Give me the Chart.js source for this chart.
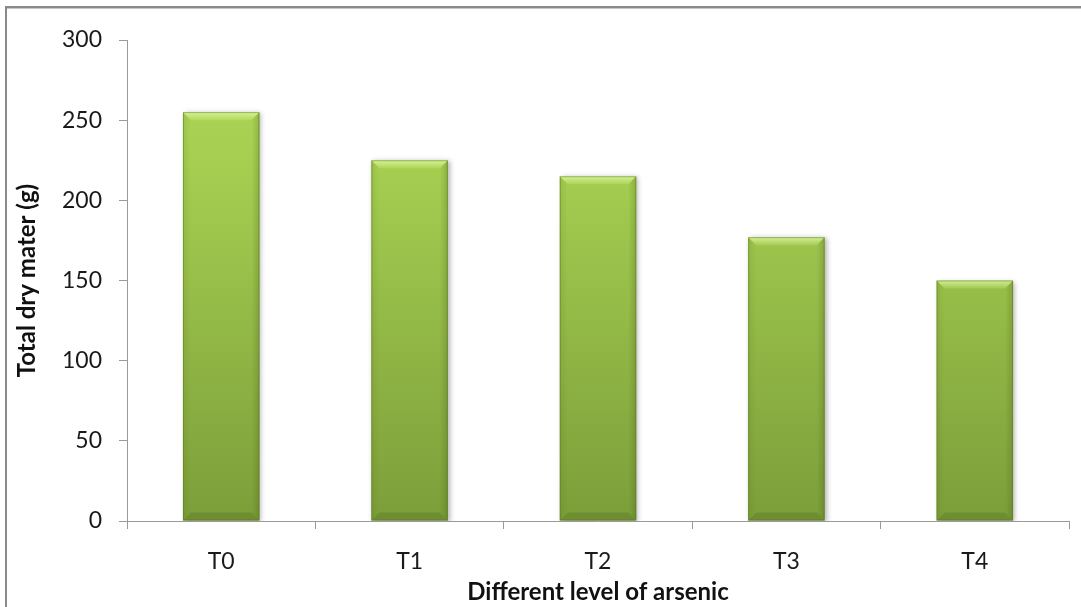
<!DOCTYPE html>
<html>
<head>
<meta charset="utf-8">
<script src="https://cdn.jsdelivr.net/npm/chart.js@4.4.1/dist/chart.umd.min.js"></script>
<style>
  html, body { margin: 0; padding: 0; background: #fff; }
  #wrap { position: relative; width: 1081px; height: 607px; }
</style>
</head>
<body>
<div id="wrap"><canvas id="c" width="1081" height="607"></canvas></div>
<script>
// Treatments and their total dry matter (g)
const categories = ['T0', 'T1', 'T2', 'T3', 'T4'];
const dryMatter = [255, 225, 215, 177, 150];
const yTicks = [0, 50, 100, 150, 200, 250, 300];

const xTitle = 'Different level of arsenic';
const yTitle = 'Total dry mater (g)';

const AXIS_GREY = '#9a9a9a';
const FONT = 'Lato, "Open Sans", sans-serif';

// Grey frame along the top and left edge of the figure
const framePlugin = {
  id: 'frame',
  beforeDraw(chart) {
    const ctx = chart.ctx;
    ctx.save();
    ctx.fillStyle = '#fff';
    ctx.fillRect(0, 0, chart.width, chart.height);
    ctx.fillStyle = '#8a8a8a';
    ctx.fillRect(5, 6, chart.width - 5, 2);
    ctx.fillRect(5, 6, 2, chart.height - 6);
    ctx.fillStyle = '#c8c8c8';
    ctx.fillRect(7, 8, chart.width - 7, 1);
    ctx.restore();
  }
};

// Soft drop shadow under the bars
const shadowPlugin = {
  id: 'barShadow',
  beforeDatasetsDraw(chart) {
    const ctx = chart.ctx;
    ctx.save();
    ctx.shadowColor = 'rgba(0,0,0,0.3)';
    ctx.shadowBlur = 5;
    ctx.shadowOffsetX = 2;
    ctx.shadowOffsetY = 1;
  },
  afterDatasetsDraw(chart) {
    chart.ctx.restore();
  }
};

// Bevelled edges drawn over each bar, using the bar element geometry
const bevelPlugin = {
  id: 'bevel',
  afterDatasetsDraw(chart) {
    const ctx = chart.ctx;
    const meta = chart.getDatasetMeta(0);
    meta.data.forEach(bar => {
      const { x, y, base, width } = bar.getProps(['x', 'y', 'base', 'width'], true);
      const l = x - width / 2, r = x + width / 2, t = y, b = base;
      const s = 8;
      ctx.save();
      // top bevel (highlight)
      let g = ctx.createLinearGradient(0, t, 0, t + s);
      g.addColorStop(0, 'rgba(235,255,180,0.75)');
      g.addColorStop(1, 'rgba(215,245,140,0.2)');
      ctx.fillStyle = g;
      ctx.beginPath();
      ctx.moveTo(l, t); ctx.lineTo(r, t); ctx.lineTo(r - s, t + s); ctx.lineTo(l + s, t + s);
      ctx.closePath(); ctx.fill();
      // bottom bevel (shade)
      ctx.fillStyle = 'rgba(50,75,10,0.2)';
      ctx.beginPath();
      ctx.moveTo(l, b); ctx.lineTo(r, b); ctx.lineTo(r - s, b - s); ctx.lineTo(l + s, b - s);
      ctx.closePath(); ctx.fill();
      // left bevel
      let gl = ctx.createLinearGradient(l, 0, l + s, 0);
      gl.addColorStop(0, 'rgba(60,90,10,0.12)');
      gl.addColorStop(1, 'rgba(60,90,10,0.0)');
      ctx.fillStyle = gl;
      ctx.beginPath();
      ctx.moveTo(l, t); ctx.lineTo(l + s, t + s); ctx.lineTo(l + s, b - s); ctx.lineTo(l, b);
      ctx.closePath(); ctx.fill();
      // right bevel
      let gr = ctx.createLinearGradient(r - s, 0, r, 0);
      gr.addColorStop(0, 'rgba(50,75,10,0.0)');
      gr.addColorStop(1, 'rgba(50,75,10,0.22)');
      ctx.fillStyle = gr;
      ctx.beginPath();
      ctx.moveTo(r, t); ctx.lineTo(r - s, t + s); ctx.lineTo(r - s, b - s); ctx.lineTo(r, b);
      ctx.closePath(); ctx.fill();
      // edge
      ctx.strokeStyle = 'rgba(90,120,30,0.5)';
      ctx.lineWidth = 1;
      ctx.strokeRect(l + 0.5, t + 0.5, width - 1, b - t - 1);
      ctx.restore();
    });
  }
};

function barGradient(context) {
  const chart = context.chart;
  const area = chart.chartArea;
  if (!area) return '#98c44a';
  const g = chart.ctx.createLinearGradient(0, area.top, 0, area.bottom);
  g.addColorStop(0, '#b0d95a');
  g.addColorStop(0.25, '#a6cf51');
  g.addColorStop(1, '#7c9e3a');
  return g;
}

new Chart(document.getElementById('c'), {
  type: 'bar',
  data: {
    labels: categories,
    datasets: [{
      data: dryMatter,
      backgroundColor: barGradient,
      borderWidth: 0,
      barPercentage: 0.406,
      categoryPercentage: 1.0
    }]
  },
  options: {
    responsive: false,
    animation: false,
    layout: { padding: { left: 10, right: 12, top: 40, bottom: 0 } },
    plugins: { legend: { display: false }, tooltip: { enabled: false } },
    scales: {
      x: {
        offset: true,
        grid: { offset: true, drawOnChartArea: false, drawTicks: true, tickLength: 8, color: AXIS_GREY },
        border: { display: true, color: AXIS_GREY, width: 1 },
        ticks: { color: '#1a1a1a', padding: 19, font: { family: FONT, size: 23 } },
        title: {
          display: true, text: xTitle, color: '#111',
          font: { family: FONT, size: 24, weight: 'bold', lineHeight: 1.1 },
          padding: { top: 0, bottom: 2 }
        },
        afterFit(scale) { scale.height = 86; }
      },
      y: {
        min: 0, max: 300,
        afterBuildTicks(scale) { scale.ticks = yTicks.map(v => ({ value: v })); },
        grid: { drawOnChartArea: false, drawTicks: true, tickLength: 8, color: AXIS_GREY },
        border: { display: true, color: AXIS_GREY, width: 1 },
        ticks: { color: '#1a1a1a', padding: 17, font: { family: FONT, size: 23 } },
        title: {
          display: true, text: yTitle, color: '#111',
          font: { family: FONT, size: 24, weight: 'bold', lineHeight: 1.1 },
          padding: { top: 4, bottom: 0 }
        },
        afterFit(scale) { scale.width = 117; }
      }
    }
  },
  plugins: [framePlugin, shadowPlugin, bevelPlugin]
});
</script>
</body>
</html>
